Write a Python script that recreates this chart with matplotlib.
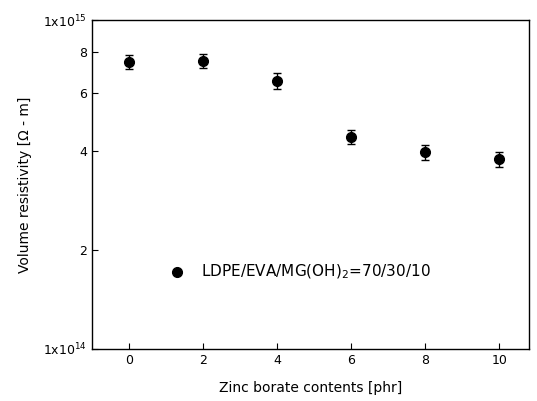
import numpy as np
import matplotlib
matplotlib.use('Agg')
from matplotlib import pyplot as plt
from matplotlib.ticker import FixedLocator, FixedFormatter, NullLocator

# data
zinc_borate = [0, 2, 4, 6, 8, 10]
resistivity = [7.47e14, 7.52e14, 6.53e14, 4.42e14, 3.96e14, 3.77e14]
error = [0.35e14, 0.38e14, 0.35e14, 0.22e14, 0.22e14, 0.2e14]
ytick_vals = [1e14, 2e14, 4e14, 6e14, 8e14, 1e15]
ytick_labels = [r'1x10$^{14}$', '2', '4', '6', '8', r'1x10$^{15}$']
xtick_vals = [0, 2, 4, 6, 8, 10]

fig = plt.figure(figsize=(5.37, 4.01), dpi=100)
ax = fig.add_axes([0.171, 0.130, 0.814, 0.820])

ax.errorbar(zinc_borate, resistivity, yerr=error, fmt='o', color='k',
            markersize=7, capsize=3, elinewidth=1, capthick=1)

ax.set_yscale('log')
ax.set_ylim(1e14, 1e15)
ax.set_xlim(-1, 10.8)
ax.yaxis.set_major_locator(FixedLocator(ytick_vals))
ax.yaxis.set_major_formatter(FixedFormatter(ytick_labels))
ax.yaxis.set_minor_locator(NullLocator())
ax.set_xticks(xtick_vals)

ax.tick_params(direction='in', length=4, labelsize=9, width=0.8)
for s in ax.spines.values():
    s.set_linewidth(1.0)

ax.set_xlabel('Zinc borate contents [phr]', fontsize=10, labelpad=10)
ax.set_ylabel('Volume resistivity [Ω - m]', fontsize=10, labelpad=8)

# legend drawn as marker + text inside the axes
ax.plot([1.3], [1.71e14], 'o', color='k', markersize=7)
ax.text(1.95, 1.71e14, r'LDPE/EVA/MG(OH)$_2$=70/30/10', fontsize=11,
        va='center', ha='left')

plt.savefig('out.png', dpi=100)
